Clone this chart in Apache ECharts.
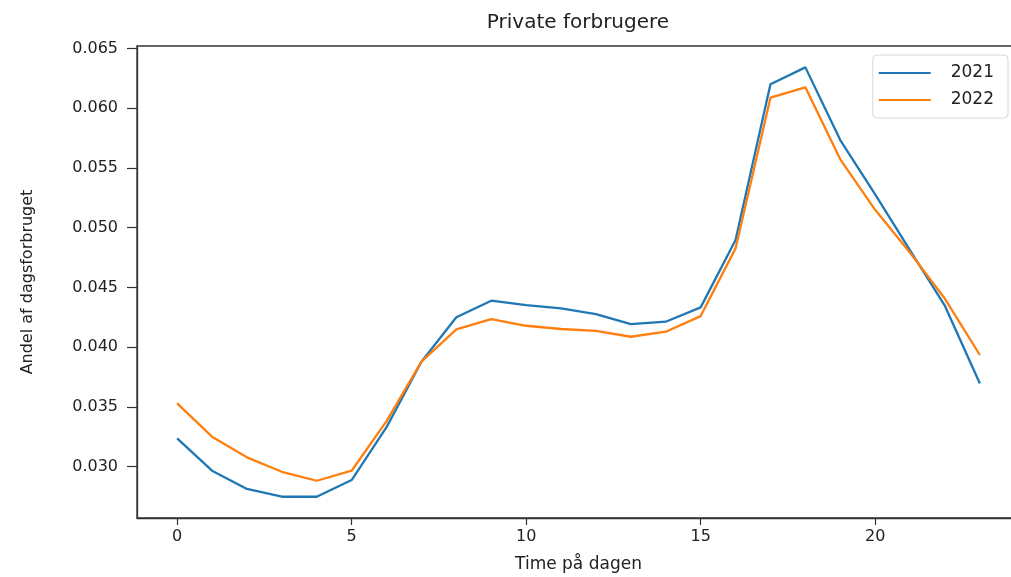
<!DOCTYPE html>
<html>
<head>
<meta charset="utf-8">
<script src="https://cdn.jsdelivr.net/npm/echarts@6/dist/echarts.min.js"></script>
<style>
html,body{margin:0;padding:0;background:#fff;}
#chart{width:1011px;height:577px;}
</style>
</head>
<body>
<div id="chart"></div>
<script>
const hours = [0,1,2,3,4,5,6,7,8,9,10,11,12,13,14,15,16,17,18,19,20,21,22,23];
const share2021 = [0.03236,0.02965,0.02812,0.02747,0.02747,0.02887,0.0333,0.03878,0.04250,0.04389,0.04352,0.04325,0.04277,0.04193,0.04213,0.04333,0.04897,0.06201,0.06343,0.05734,0.05280,0.04810,0.04345,0.03695];
const share2022 = [0.03529,0.03250,0.03077,0.02956,0.02881,0.02965,0.0338,0.03878,0.04149,0.04235,0.04179,0.04152,0.04137,0.04087,0.04129,0.04260,0.04827,0.06089,0.06176,0.05573,0.05150,0.04790,0.04405,0.03934];
const xTicks = [0,5,10,15,20];
const yTicks = [0.030,0.035,0.040,0.045,0.050,0.055,0.060,0.065];
const seriesNames = ['2021','2022'];
const titleText = 'Private forbrugere';
const xName = 'Time på dagen';
const yName = 'Andel af dagsforbruget';

const font = 'DejaVu Sans';
const txt = '#222';
const chart = echarts.init(document.getElementById('chart'), null, {renderer:'canvas'});
const toPairs = vals => hours.map((h,i)=>[h, vals[i]]);
chart.setOption({
  animation:false,
  backgroundColor:'#fff',
  title:{
    text:titleText, left:578, top:13, textAlign:'center', padding:0,
    textStyle:{fontFamily:font, fontSize:20, fontWeight:'normal', color:txt}
  },
  grid:{left:137, top:46, width:883, height:472, outerBoundsMode:'none', containLabel:false,
        show:true, borderColor:'#333', borderWidth:1.3, backgroundColor:'transparent'},
  legend:{
    orient:'vertical', right:3, top:55,
    padding:[8,14,8,6], itemGap:7, itemWidth:52, itemHeight:2.2, icon:'rect',
    borderColor:'#d8d8d8', borderWidth:1, borderRadius:4, backgroundColor:'#fff',
    textStyle:{fontFamily:font, fontSize:17, color:txt, lineHeight:20, padding:[0,0,0,15]},
    data:seriesNames
  },
  xAxis:{
    type:'value', min:-1.15, max:24.15,
    name:xName, nameLocation:'middle', nameGap:38,
    nameTextStyle:{fontFamily:font, fontSize:17, color:txt},
    axisLine:{show:true, onZero:false, lineStyle:{color:'#333', width:1.3}},
    axisTick:{show:true, length:7, customValues:xTicks, lineStyle:{color:'#333', width:1.2}},
    axisLabel:{customValues:xTicks, margin:11, fontFamily:font, fontSize:16, color:txt, formatter:v=>String(v)},
    splitLine:{show:false}
  },
  yAxis:{
    type:'value', min:0.02569, max:0.06522,
    name:yName, nameLocation:'middle', nameRotate:90, nameGap:101,
    nameTextStyle:{fontFamily:font, fontSize:16, color:txt},
    axisLine:{show:true, onZero:false, lineStyle:{color:'#333', width:1.3}},
    axisTick:{show:true, length:10, customValues:yTicks, lineStyle:{color:'#333', width:1.2}},
    axisLabel:{customValues:yTicks, margin:19, fontFamily:font, fontSize:16, color:txt, formatter:v=>v.toFixed(3)},
    splitLine:{show:false}
  },
  series:[
    {name:seriesNames[0], type:'line', data:toPairs(share2021), showSymbol:false, symbol:'none',
     lineStyle:{color:'#1f77b4', width:2.3}, itemStyle:{color:'#1f77b4'}},
    {name:seriesNames[1], type:'line', data:toPairs(share2022), showSymbol:false, symbol:'none',
     lineStyle:{color:'#ff7f0e', width:2.3}, itemStyle:{color:'#ff7f0e'}}
  ]
});
</script>
</body>
</html>
